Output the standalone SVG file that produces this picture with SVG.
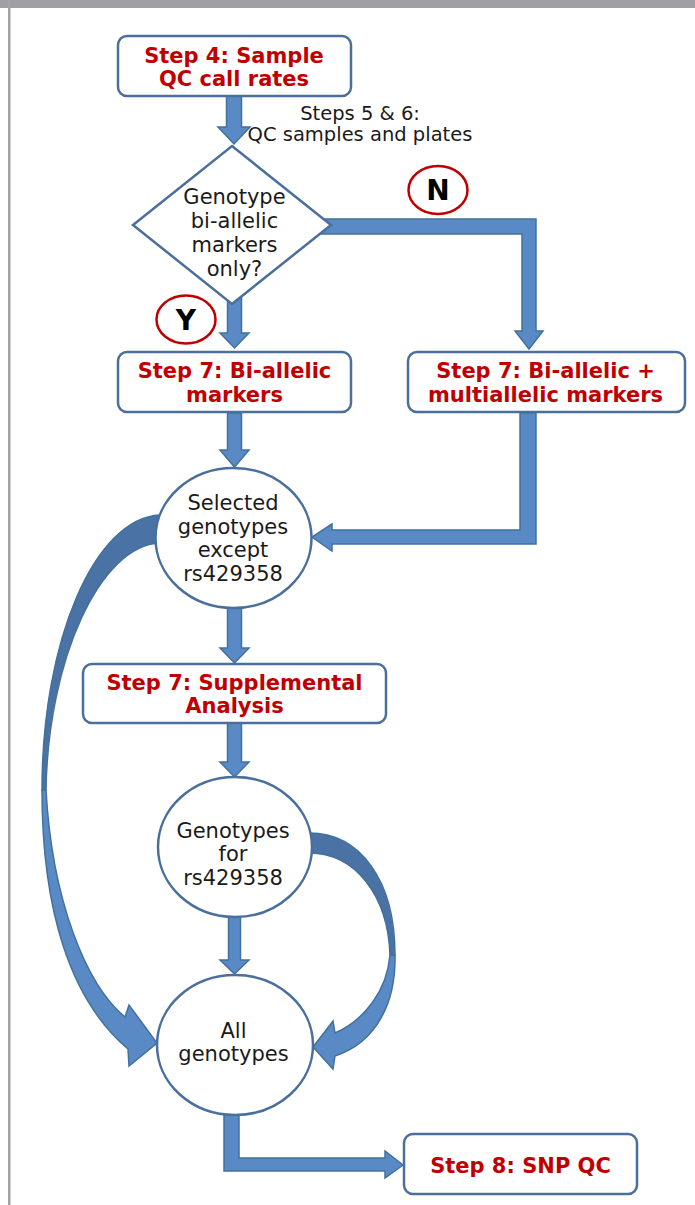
<svg xmlns="http://www.w3.org/2000/svg" width="695" height="1205" viewBox="0 0 695 1205">
<style>
.box{fill:#fff;stroke:#4a6f9c;stroke-width:2.5}
.arr{fill:#5a8ac6;stroke:#41719c;stroke-width:1.5;stroke-linejoin:miter}
.back{fill:#4a72a5;stroke:#41719c;stroke-width:1.5}
.t{font-family:"DejaVu Sans",Verdana,sans-serif;font-size:21px;fill:#1a1a1a;text-anchor:middle}
.r{font-family:"DejaVu Sans",Verdana,sans-serif;font-size:21px;font-weight:bold;fill:#c00000;text-anchor:middle}
.yn{fill:#fff;stroke:#c00000;stroke-width:2.5}
.k{font-family:"DejaVu Sans",Verdana,sans-serif;font-size:28px;font-weight:bold;fill:#000;text-anchor:middle}
</style>
<rect x="0" y="0" width="695" height="1205" fill="#fff"/>
<rect x="0" y="0" width="695" height="8" fill="#9fa0a4"/>
<rect x="8" y="0" width="2.5" height="1205" fill="#a3a3a8"/>

<g id="connectors">
  <polygon class="arr" points="226.5,96 241.5,96 241.5,127 250,127 234,144 218,127 226.5,127"/>
  <polygon class="arr" points="227.5,296 241.5,296 241.5,333 249,333 234.5,348 220,333 227.5,333"/>
  <polygon class="arr" points="318,219 536,219 536,331 543,331 529,349 515,331 522,331 522,234 318,234"/>
  <polygon class="arr" points="227.5,413 241.5,413 241.5,450 249,450 234.5,467 220,450 227.5,450"/>
  <polygon class="arr" points="520,413 536,413 536,544 332,544 332,551 312,537 332,524 332,530 520,530"/>
  <polygon class="arr" points="227.5,606 241.5,606 241.5,648 249,648 234.5,663 220,648 227.5,648"/>
  <polygon class="arr" points="227.5,723 241.5,723 241.5,762 249,762 234.5,777 220,762 227.5,762"/>
  <polygon class="arr" points="228.5,916 240.5,916 240.5,960 249,960 234.5,974 220,960 228.5,960"/>
  <polygon class="arr" points="224,1110 239,1110 239,1158 385,1158 385,1151 403,1165 385,1178 385,1171 224,1171"/>
  <path class="back" d="M160,515 C95,518 42,640 42,790 L46,790 C48,660 100,545 160,543 Z"/>
  <path class="arr" d="M42,790 C42,910 70,1000 128,1049 L129,1066 L157,1043 L129,1005 L125,1017 C86,985 52,900 46,790 Z"/>
  <path class="back" d="M309,833 C360,833 395,880 395,955 L390,955 C388,895 355,853 309,853 Z"/>
  <path class="arr" d="M395,955 C396,1002 377,1042 335,1056 L333,1069 L313,1047 L333,1021 L335,1033 C365,1020 387,990 390,955 Z"/>
</g>

<g id="step4">
  <rect class="box" x="118" y="36" width="233" height="60" rx="9"/>
  <text class="r" x="234" y="62.5">Step 4: Sample</text>
  <text class="r" x="234" y="86">QC call rates</text>
</g>
<g id="label56">
  <text class="t" style="font-size:19.5px" x="360" y="120">Steps 5 &amp; 6:</text>
  <text class="t" style="font-size:19.5px" x="360" y="141">QC samples and plates</text>
</g>
<g id="decision">
  <polygon class="box" points="232,146 331,225 232,304 133,225"/>
  <text class="t" x="234.5" y="204">Genotype</text>
  <text class="t" x="234.5" y="228">bi-allelic</text>
  <text class="t" x="234.5" y="252">markers</text>
  <text class="t" x="234.5" y="276">only?</text>
</g>
<g id="no">
  <ellipse class="yn" cx="438" cy="190" rx="29.5" ry="24"/>
  <text class="k" x="438" y="200">N</text>
</g>
<g id="yes">
  <ellipse class="yn" cx="186" cy="319.5" rx="29.5" ry="24"/>
  <text class="k" x="186" y="329.5">Y</text>
</g>
<g id="step7a">
  <rect class="box" x="118" y="352" width="233" height="60" rx="9"/>
  <text class="r" x="234.5" y="378">Step 7: Bi-allelic</text>
  <text class="r" x="234.5" y="402">markers</text>
</g>
<g id="step7b">
  <rect class="box" x="408" y="352" width="277" height="60" rx="9"/>
  <text class="r" x="545.5" y="378">Step 7: Bi-allelic +</text>
  <text class="r" x="545.5" y="402">multiallelic markers</text>
</g>
<g id="selected">
  <ellipse class="box" cx="233.5" cy="538" rx="78" ry="70"/>
  <text class="t" x="233" y="510">Selected</text>
  <text class="t" x="233" y="533.5">genotypes</text>
  <text class="t" x="233" y="557">except</text>
  <text class="t" x="233" y="580.5">rs429358</text>
</g>
<g id="supplemental">
  <rect class="box" x="83" y="664" width="303" height="59" rx="9"/>
  <text class="r" x="234.5" y="690">Step 7: Supplemental</text>
  <text class="r" x="234.5" y="713">Analysis</text>
</g>
<g id="rs">
  <ellipse class="box" cx="235" cy="847" rx="77" ry="70"/>
  <text class="t" x="233" y="837.5">Genotypes</text>
  <text class="t" x="233" y="861">for</text>
  <text class="t" x="233" y="884.5">rs429358</text>
</g>
<g id="all">
  <ellipse class="box" cx="235" cy="1045" rx="78" ry="70"/>
  <text class="t" x="233.5" y="1037.5">All</text>
  <text class="t" x="233.5" y="1061">genotypes</text>
</g>
<g id="step8">
  <rect class="box" x="404" y="1134" width="233" height="60" rx="9"/>
  <text class="r" x="520.5" y="1173">Step 8: SNP QC</text>
</g>
</svg>
